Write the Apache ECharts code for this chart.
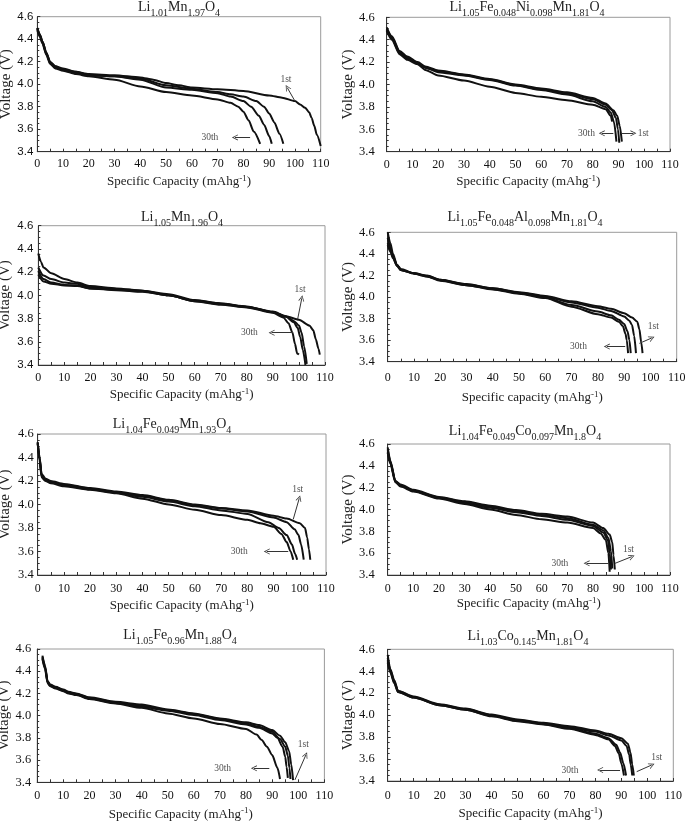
<!DOCTYPE html>
<html>
<head>
<meta charset="utf-8">
<script src="https://cdn.jsdelivr.net/npm/echarts/dist/echarts.min.js"></script>
<style>
  html, body { margin: 0; padding: 0; background: #fff; }
  #chart { width: 685px; height: 821px; }
</style>
</head>
<body>
<div id="chart"></div>
<script>
// ---------------- DATA ----------------
// Panel titles (rich text: m = main, s = subscript)
const panelTitles = [
  '{m|Li}{s|1.01}{m|Mn}{s|1.97}{m|O}{s|4}',
  '{m|Li}{s|1.05}{m|Fe}{s|0.048}{m|Ni}{s|0.098}{m|Mn}{s|1.81}{m|O}{s|4}',
  '{m|Li}{s|1.05}{m|Mn}{s|1.96}{m|O}{s|4}',
  '{m|Li}{s|1.05}{m|Fe}{s|0.048}{m|Al}{s|0.098}{m|Mn}{s|1.81}{m|O}{s|4}',
  '{m|Li}{s|1.04}{m|Fe}{s|0.049}{m|Mn}{s|1.93}{m|O}{s|4}',
  '{m|Li}{s|1.04}{m|Fe}{s|0.049}{m|Co}{s|0.097}{m|Mn}{s|1.8}{m|O}{s|4}',
  '{m|Li}{s|1.05}{m|Fe}{s|0.96}{m|Mn}{s|1.88}{m|O}{s|4}',
  '{m|Li}{s|1.03}{m|Co}{s|0.145}{m|Mn}{s|1.81}{m|O}{s|4}'
];
const xAxisNames = [
  'Specific Capacity (mAhg{sup|-1})', 'Specific Capacity (mAhg{sup|-1})',
  'Specific Capacity (mAhg{sup|-1})', 'Specific capacity (mAhg{sup|-1})',
  'Specific Capacity (mAhg{sup|-1})', 'Specific Capacity (mAhg{sup|-1})',
  'Specific Capacity (mAhg{sup|-1})', 'Specific Capacity (mAhg{sup|-1})'
];
const yAxisName = 'Voltage (V)';
const xMin = 0, xMax = 110, xStep = 10;
const yMin = 3.4, yMax = 4.6, yStep = 0.2;

// Panel 1: Li1.01Mn1.97O4
const p1_c1 = [[0,4.50],[1,4.44],[2,4.38],[3.5,4.28],[5,4.20],[7,4.16],[10,4.14],[15,4.11],[20,4.09],[30,4.08],[40,4.06],[45,4.04],[50,4.01],[55,3.99],[60,3.97],[70,3.955],[80,3.94],[90,3.90],[95,3.88],[100,3.85],[102,3.82],[104,3.79],[105.5,3.75],[106.5,3.70],[107.5,3.63],[108.5,3.55],[110,3.45]];
const p1_c2 = [[0,4.50],[1,4.44],[2,4.38],[3.5,4.28],[5,4.19],[7,4.16],[10,4.13],[15,4.11],[20,4.08],[30,4.07],[40,4.05],[50,3.99],[60,3.96],[70,3.93],[75,3.91],[80,3.89],[85,3.85],[88,3.80],[90,3.74],[92,3.66],[94,3.56],[95.5,3.47]];
const p1_c3 = [[0,4.49],[1,4.43],[2,4.37],[3.5,4.27],[5,4.19],[7,4.15],[10,4.13],[15,4.10],[20,4.08],[30,4.07],[40,4.04],[50,3.97],[60,3.95],[70,3.92],[75,3.89],[80,3.85],[83,3.80],[86,3.72],[88,3.64],[90,3.54],[91,3.47]];
const p1_c4 = [[0,4.48],[1,4.42],[2,4.36],[3.5,4.26],[5,4.18],[7,4.14],[10,4.12],[15,4.09],[20,4.07],[30,4.04],[40,3.98],[50,3.93],[60,3.90],[70,3.865],[75,3.835],[78,3.80],[80,3.755],[82,3.68],[84,3.58],[86.5,3.47]];

// Panel 2: Li1.05Fe0.048Ni0.098Mn1.81O4
const p2_c1 = [[0,4.51],[2,4.43],[5,4.30],[8,4.25],[12,4.20],[15,4.16],[20,4.125],[30,4.09],[40,4.05],[50,4.00],[60,3.965],[70,3.93],[80,3.88],[85,3.83],[88,3.77],[89.5,3.72],[90.5,3.63],[91.3,3.49]];
const p2_c2 = [[0,4.50],[2,4.42],[5,4.29],[8,4.24],[12,4.19],[15,4.15],[20,4.12],[30,4.085],[40,4.045],[50,3.995],[60,3.955],[70,3.92],[80,3.87],[85,3.82],[87.5,3.77],[89,3.70],[89.8,3.60],[90.3,3.48]];
const p2_c3 = [[0,4.49],[2,4.41],[5,4.28],[8,4.23],[12,4.19],[15,4.15],[20,4.11],[30,4.08],[40,4.04],[50,3.99],[60,3.95],[70,3.91],[80,3.85],[85,3.80],[87,3.75],[88.3,3.66],[89.2,3.49]];
const p2_c4 = [[0,4.48],[2,4.40],[5,4.27],[8,4.22],[12,4.18],[15,4.13],[20,4.08],[30,4.035],[40,3.98],[50,3.925],[60,3.89],[70,3.86],[80,3.82],[85,3.78],[87,3.72],[87.5,3.67]];

// Panel 3: Li1.05Mn1.96O4
const p3_c1 = [[0,4.36],[1,4.29],[2,4.24],[5,4.19],[10,4.14],[15,4.11],[20,4.08],[30,4.06],[40,4.04],[50,4.01],[60,3.96],[70,3.93],[80,3.905],[90,3.855],[95,3.82],[100,3.79],[104,3.74],[105.5,3.70],[106.5,3.62],[107.5,3.54],[108,3.49]];
const p3_c2 = [[0,4.24],[2,4.17],[5,4.14],[10,4.11],[15,4.10],[20,4.07],[30,4.055],[40,4.04],[50,4.00],[60,3.955],[70,3.93],[80,3.90],[90,3.86],[95,3.82],[98,3.78],[100,3.74],[101,3.68],[102,3.56],[103,3.41]];
const p3_c3 = [[0,4.21],[2,4.14],[5,4.11],[10,4.09],[15,4.085],[20,4.06],[30,4.05],[40,4.035],[50,4.00],[60,3.95],[70,3.925],[80,3.90],[90,3.855],[95,3.815],[98,3.77],[99.5,3.72],[100.5,3.64],[101.5,3.53],[102.5,3.40]];
const p3_c4 = [[0,4.18],[2,4.12],[5,4.10],[10,4.085],[15,4.08],[20,4.06],[30,4.045],[40,4.03],[50,4.00],[60,3.95],[70,3.92],[80,3.895],[90,3.85],[94,3.81],[96,3.76],[97.5,3.68],[98.5,3.58],[99.3,3.50],[100,3.49]];

// Panel 4: Li1.05Fe0.048Al0.098Mn1.81O4
const p4_c1 = [[0,4.60],[1,4.50],[2,4.40],[3.5,4.30],[5,4.26],[10,4.22],[15,4.20],[20,4.16],[30,4.12],[40,4.08],[50,4.045],[60,4.01],[70,3.96],[80,3.915],[85,3.89],[90,3.85],[93,3.81],[95,3.77],[95.8,3.70],[96.5,3.58],[97,3.48]];
const p4_c2 = [[0,4.55],[1,4.46],[2,4.38],[3.5,4.30],[5,4.25],[10,4.22],[15,4.195],[20,4.16],[30,4.115],[40,4.08],[50,4.04],[60,4.005],[70,3.95],[80,3.90],[85,3.87],[90,3.82],[92,3.78],[93,3.74],[93.8,3.64],[94.5,3.48]];
const p4_c3 = [[0,4.50],[1,4.44],[2,4.37],[3.5,4.29],[5,4.25],[10,4.22],[15,4.19],[20,4.155],[30,4.11],[40,4.075],[50,4.035],[60,3.995],[70,3.925],[80,3.865],[85,3.83],[88,3.79],[90,3.75],[91.3,3.68],[92,3.60],[92.5,3.48]];
const p4_c4 = [[0,4.48],[1,4.42],[2,4.36],[3.5,4.29],[5,4.25],[10,4.215],[15,4.19],[20,4.15],[30,4.11],[40,4.07],[50,4.03],[60,3.99],[70,3.91],[80,3.84],[85,3.81],[88,3.77],[89.5,3.73],[90.5,3.66],[91,3.60],[91.5,3.48]];

// Panel 5: Li1.04Fe0.049Mn1.93O4
const p5_c1 = [[0,4.53],[0.7,4.40],[1.5,4.26],[3,4.22],[5,4.20],[10,4.175],[20,4.14],[30,4.11],[40,4.08],[50,4.04],[60,4.00],[70,3.97],[80,3.95],[90,3.905],[95,3.88],[100,3.84],[102,3.80],[102.8,3.72],[103.5,3.62],[104,3.53]];
const p5_c2 = [[0,4.53],[0.7,4.40],[1.5,4.25],[3,4.21],[5,4.19],[10,4.17],[20,4.135],[30,4.105],[40,4.075],[50,4.035],[60,3.995],[70,3.965],[80,3.94],[90,3.89],[95,3.85],[98,3.79],[99.5,3.74],[100.5,3.66],[101.5,3.53]];
const p5_c3 = [[0,4.52],[0.7,4.39],[1.5,4.24],[3,4.21],[5,4.19],[10,4.165],[20,4.13],[30,4.10],[40,4.065],[50,4.025],[60,3.985],[70,3.95],[80,3.92],[88,3.85],[92,3.80],[95,3.74],[97,3.66],[98.2,3.58],[99,3.53]];
const p5_c4 = [[0,4.52],[0.7,4.38],[1.5,4.23],[3,4.20],[5,4.18],[10,4.155],[20,4.125],[30,4.095],[40,4.05],[50,4.00],[60,3.955],[70,3.91],[80,3.87],[85,3.84],[90,3.81],[93,3.75],[95,3.68],[96.5,3.60],[97.5,3.53]];

// Panel 6: Li1.04Fe0.049Co0.097Mn1.8O4
const p6_c1 = [[0,4.57],[1,4.45],[3,4.26],[5,4.23],[10,4.18],[20,4.115],[30,4.075],[40,4.035],[50,3.995],[60,3.96],[70,3.935],[80,3.88],[84,3.83],[86.5,3.77],[87.5,3.70],[88,3.58],[88.5,3.45]];
const p6_c2 = [[0,4.55],[1,4.44],[3,4.26],[5,4.22],[10,4.175],[20,4.11],[30,4.07],[40,4.025],[50,3.985],[60,3.95],[70,3.92],[80,3.86],[84,3.81],[86,3.74],[87,3.62],[87.5,3.46]];
const p6_c3 = [[0,4.53],[1,4.43],[3,4.255],[5,4.22],[10,4.17],[20,4.105],[30,4.06],[40,4.015],[50,3.975],[60,3.94],[70,3.905],[80,3.85],[84,3.79],[85.8,3.72],[86.5,3.60],[87,3.45]];
const p6_c4 = [[0,4.52],[1,4.42],[3,4.25],[5,4.21],[10,4.165],[20,4.10],[30,4.05],[40,4.00],[50,3.95],[60,3.91],[70,3.88],[80,3.83],[83,3.78],[85,3.72],[86,3.60],[86.5,3.43]];

// Panel 7: Li1.05Fe0.96Mn1.88O4
const p7_c1 = [[2,4.54],[3,4.45],[4,4.31],[5,4.28],[7,4.26],[10,4.235],[12,4.215],[15,4.20],[20,4.165],[30,4.125],[40,4.10],[50,4.055],[60,4.02],[70,3.975],[80,3.94],[85,3.915],[90,3.87],[93,3.82],[95,3.76],[96.5,3.68],[97.3,3.56],[98,3.42]];
const p7_c2 = [[2,4.53],[3,4.44],[4,4.30],[5,4.275],[7,4.255],[10,4.23],[12,4.21],[15,4.195],[20,4.16],[30,4.12],[40,4.09],[50,4.05],[60,4.015],[70,3.97],[80,3.93],[85,3.90],[90,3.855],[93,3.79],[95,3.72],[96,3.64],[96.6,3.53],[97,3.43]];
const p7_c3 = [[2,4.52],[3,4.43],[4,4.30],[5,4.27],[7,4.25],[10,4.225],[12,4.205],[15,4.19],[20,4.155],[30,4.115],[40,4.08],[50,4.045],[60,4.005],[70,3.96],[80,3.92],[85,3.89],[90,3.84],[92,3.80],[94,3.72],[95,3.63],[95.5,3.54],[96,3.44]];
const p7_c4 = [[2,4.51],[3,4.42],[4,4.29],[5,4.265],[7,4.245],[10,4.22],[12,4.20],[15,4.185],[20,4.15],[30,4.11],[40,4.07],[50,4.02],[60,3.975],[70,3.925],[80,3.88],[84,3.83],[86,3.78],[88,3.72],[90,3.645],[92,3.53],[93,3.43]];

// Panel 8: Li1.03Co0.145Mn1.81O4
const p8_c1 = [[0,4.55],[1,4.42],[2.5,4.32],[4,4.22],[10,4.17],[20,4.10],[30,4.06],[40,4.005],[50,3.96],[60,3.93],[70,3.90],[80,3.86],[85,3.83],[90,3.79],[92.5,3.74],[93.5,3.66],[94.2,3.55],[94.8,3.45]];
const p8_c2 = [[0,4.52],[1,4.41],[2.5,4.31],[4,4.22],[10,4.165],[20,4.095],[30,4.055],[40,4.00],[50,3.955],[60,3.925],[70,3.89],[80,3.85],[85,3.815],[90,3.77],[92,3.72],[93,3.64],[93.6,3.55],[94.2,3.45]];
const p8_c3 = [[0,4.50],[1,4.40],[2.5,4.30],[4,4.21],[10,4.16],[20,4.09],[30,4.05],[40,3.995],[50,3.95],[60,3.92],[70,3.88],[80,3.83],[85,3.79],[88,3.73],[89.5,3.66],[90.8,3.56],[91.8,3.45]];
const p8_c4 = [[0,4.48],[1,4.39],[2.5,4.29],[4,4.21],[10,4.16],[20,4.09],[30,4.05],[40,3.99],[50,3.945],[60,3.915],[70,3.875],[80,3.82],[85,3.78],[87.5,3.72],[89,3.65],[90,3.56],[91,3.45]];

const panelCurves = [
  [p1_c1, p1_c2, p1_c3, p1_c4],
  [p2_c1, p2_c2, p2_c3, p2_c4],
  [p3_c1, p3_c2, p3_c3, p3_c4],
  [p4_c1, p4_c2, p4_c3, p4_c4],
  [p5_c1, p5_c2, p5_c3, p5_c4],
  [p6_c1, p6_c2, p6_c3, p6_c4],
  [p7_c1, p7_c2, p7_c3, p7_c4],
  [p8_c1, p8_c2, p8_c3, p8_c4]
];

// Annotation texts: [panel, x, y, text]  (data coordinates)
const noteTexts = [
  [0, 96.5, 4.045, '1st'], [0, 67, 3.527, '30th'],
  [1, 99.6, 3.564, '1st'], [1, 77.6, 3.564, '30th'],
  [2, 100.4, 4.052, '1st'], [2, 81, 3.678, '30th'],
  [3, 101.1, 3.725, '1st'], [3, 72.6, 3.54, '30th'],
  [4, 99.2, 4.129, '1st'], [4, 76.9, 3.60, '30th'],
  [5, 93.8, 3.635, '1st'], [5, 67.1, 3.507, '30th'],
  [6, 101.9, 3.736, '1st'], [6, 71, 3.526, '30th'],
  [7, 103.6, 3.613, '1st'], [7, 70.2, 3.50, '30th']
];
// Annotation arrows: [panel, xFrom, yFrom, xTo, yTo]
const noteArrows = [
  [0, 100, 3.85, 97, 3.97], [0, 82.6, 3.527, 76.7, 3.527],
  [1, 88, 3.564, 83.5, 3.564], [1, 91.2, 3.564, 95.8, 3.564],
  [2, 99.5, 3.794, 101.1, 3.975], [2, 97.8, 3.678, 89.5, 3.678],
  [3, 95.8, 3.57, 100.5, 3.62], [3, 90.4, 3.54, 83.4, 3.54],
  [4, 97.5, 3.874, 99.8, 4.053], [4, 95.6, 3.60, 87.4, 3.60],
  [5, 88.6, 3.507, 95.1, 3.568], [5, 86, 3.507, 77.5, 3.507],
  [6, 98.7, 3.421, 102.9, 3.646], [6, 88.9, 3.526, 83.0, 3.526],
  [7, 95.9, 3.485, 101.7, 3.546], [7, 89.5, 3.50, 81.8, 3.50]
];

// ---------------- LAYOUT ----------------
const SERIF = '"Liberation Serif", "DejaVu Serif", serif';
const SANS = '"Liberation Sans", Arial, sans-serif';
// grid box (x=0..110 , V=4.6..3.4), title centre, label/name spacing
const layout = [
  {l:37.3, t:16.7, w:283.4, h:135.0, tx:179, ty:8,   xm:6,  xg:22, ym:4,  yg:22, yf:SANS},
  {l:386.7,t:17.3, w:283.3, h:134.4, tx:527, ty:8,   xm:7,  xg:22, ym:12, yg:26, yf:SERIF},
  {l:38.3, t:225.7,w:286.7, h:139.3, tx:182, ty:218, xm:7,  xg:22, ym:5,  yg:26, yf:SANS},
  {l:387.7,t:232.3,w:289.0, h:129.4, tx:525, ty:218, xm:10, xg:28, ym:13, yg:26, yf:SERIF},
  {l:37.7, t:434,  w:288.3, h:141.0, tx:172, ty:425, xm:8,  xg:23, ym:4,  yg:25, yf:SERIF},
  {l:387.7,t:444,  w:282.3, h:131.0, tx:525, ty:432, xm:8,  xg:20, ym:13, yg:25, yf:SERIF},
  {l:37.2, t:649,  w:287.2, h:133.3, tx:180, ty:636, xm:8,  xg:24, ym:6,  yg:24, yf:SERIF},
  {l:387.7,t:649.3,w:285.6, h:131.7, tx:528, ty:637, xm:9,  xg:25, ym:13, yg:25, yf:SERIF}
];

const chevron = 'path://M5,0 L10,10 L8.6,10 L5,2.6 L1.4,10 L0,10 Z';

const grids = [], xAxes = [], yAxes = [], series = [], graphics = [];
layout.forEach((L, i) => {
  grids.push({left: L.l, top: L.t, width: L.w, height: L.h, show: true,
              containLabel: false, outerBoundsMode: 'none',
              borderColor: '#9a9a9a', borderWidth: 1, backgroundColor: 'rgba(0,0,0,0)'});
  xAxes.push({
    gridIndex: i, type: 'value', min: xMin, max: xMax, interval: xStep,
    axisLine: {show: true, onZero: false, lineStyle: {color: '#333', width: 1}},
    axisTick: {show: true, inside: true, length: 3, lineStyle: {color: '#333'}},
    minorTick: {show: true, splitNumber: 2, length: 3, lineStyle: {color: '#333'}},
    splitLine: {show: false},
    axisLabel: {margin: L.xm, fontFamily: SERIF, fontSize: 12, color: '#111'},
    name: xAxisNames[i], nameLocation: 'middle', nameGap: L.xg,
    nameTextStyle: {fontFamily: SERIF, fontSize: 13, color: '#222', lineHeight: 16,
      rich: {sup: {fontFamily: SERIF, fontSize: 9, color: '#222', lineHeight: 9, padding: [0, 0, 7, 0]}}}
  });
  yAxes.push({
    gridIndex: i, type: 'value', min: yMin, max: yMax, interval: yStep,
    axisLine: {show: true, onZero: false, lineStyle: {color: '#333', width: 1}},
    axisTick: {show: true, inside: true, length: 3, lineStyle: {color: '#333'}},
    minorTick: {show: true, splitNumber: 4, length: 2, lineStyle: {color: '#333'}},
    splitLine: {show: false},
    axisLabel: {margin: L.ym, fontFamily: L.yf, fontSize: L.yf === SANS ? 11.5 : 12.5, color: '#111',
                formatter: v => v.toFixed(1)},
    name: yAxisName, nameLocation: 'middle', nameGap: L.yg,
    nameTextStyle: {fontFamily: SERIF, fontSize: 15, color: '#222'}
  });
  panelCurves[i].forEach((curve, k) => {
    series.push({
      type: 'line', xAxisIndex: i, yAxisIndex: i, data: curve,
      showSymbol: false, smooth: 0.25, smoothMonotone: 'x',
      lineStyle: {color: '#111', width: 2}, silent: true, animation: false, z: 3
    });
  });
  const texts = noteTexts.filter(n => n[0] === i).map(n => ({name: n[3], value: [n[1], n[2]]}));
  const arrows = noteArrows.filter(a => a[0] === i).map(a => [{coord: [a[1], a[2]]}, {coord: [a[3], a[4]]}]);
  series.push({
    type: 'scatter', xAxisIndex: i, yAxisIndex: i, data: texts, symbolSize: 0,
    silent: true, animation: false, z: 4,
    label: {show: true, position: 'inside', formatter: p => p.name,
            fontFamily: SERIF, fontSize: 9.5, color: '#222'},
    markLine: {
      silent: true, animation: false, symbol: ['none', chevron], symbolSize: [6, 6],
      lineStyle: {color: '#333', width: 1, type: 'solid'}, label: {show: false},
      emphasis: {disabled: true}, data: arrows
    }
  });
  graphics.push({
    type: 'text', x: L.tx, y: L.ty, silent: true,
    style: {
      text: panelTitles[i], align: 'center', verticalAlign: 'middle', fill: '#222',
      rich: {
        m: {fontFamily: SERIF, fontSize: 14, lineHeight: 16, fill: '#222', verticalAlign: 'top'},
        s: {fontFamily: SERIF, fontSize: 10, lineHeight: 10, fill: '#222', padding: [8, 0, 0, 0], verticalAlign: 'top'}
      }
    }
  });
});

const chart = echarts.init(document.getElementById('chart'), null, {renderer: 'canvas'});
chart.setOption({
  backgroundColor: '#fff',
  animation: false,
  grid: grids, xAxis: xAxes, yAxis: yAxes, series: series, graphic: graphics
});
</script>
</body>
</html>
